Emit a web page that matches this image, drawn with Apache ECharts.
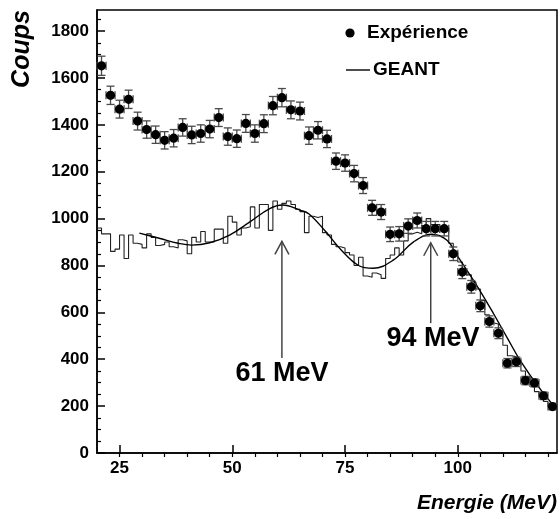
<!DOCTYPE html>
<html>
<head>
<meta charset="utf-8">
<script src="https://cdn.jsdelivr.net/npm/echarts@6/dist/echarts.min.js"></script>
<style>
  html, body { margin: 0; padding: 0; background: #fff; }
  #chart { width: 560px; height: 519px; }
</style>
</head>
<body>
<div id="chart"></div>
<script>
// experience : 2 MeV bins, centres 21..121
const expX = [21, 23, 25, 27, 29, 31, 33, 35, 37, 39, 41, 43, 45, 47, 49, 51, 53, 55, 57, 59,
  61, 63, 65, 67, 69, 71, 73, 75, 77, 79, 81, 83, 85, 87, 89, 91, 93, 95, 97, 99,
  101, 103, 105, 107, 109, 111, 113, 115, 117, 119, 121]
const expY = [1652, 1526, 1467, 1509, 1416, 1380, 1358, 1334, 1343, 1389, 1357, 1363, 1382, 1431, 1350, 1341, 1406, 1363, 1405, 1482,
  1516, 1464, 1459, 1354, 1377, 1340, 1245, 1237, 1192, 1141, 1046, 1028, 933, 935, 968, 992, 957, 957, 957, 850,
  772, 709, 628, 561, 511, 383, 389, 309, 299, 244, 198]
const expErr = [41, 39, 38, 39, 38, 37, 37, 37, 37, 37, 37, 37, 37, 38, 37, 37, 38, 37, 38, 39,
  39, 38, 38, 37, 37, 37, 35, 35, 35, 34, 32, 32, 31, 31, 31, 32, 31, 31, 31, 29,
  28, 27, 25, 24, 23, 20, 20, 18, 17, 16, 14]

// GEANT histogramme : 1 MeV bins, left edges 20..121
const geantStart = 20
const geantVal = [960, 935, 935, 860, 870, 930, 830, 930, 895, 890,
  875, 935, 920, 885, 890, 900, 880, 875, 910, 905,
  850, 920, 900, 945, 900, 900, 955, 955, 895, 1010,
  985, 930, 960, 965, 1050, 960, 1060, 1060, 950, 1075,
  1040, 1065, 1075, 1060, 1040, 1030, 940, 1010, 1005, 1010,
  940, 930, 890, 880, 875, 855, 845, 800, 835, 755,
  750, 768, 760, 745, 830, 845, 875, 845, 905, 935,
  942, 935, 970, 1000, 975, 975, 965, 960, 895, 855,
  815, 780, 760, 730, 700, 650, 590, 555, 550, 505,
  460, 415, 410, 395, 350, 325, 305, 262, 240, 220,
  198, 190]

// courbe lisse
const curveX = [29.4, 34, 38, 41, 45, 49.4, 53.9, 58.3, 61.2, 65, 67, 70.6, 74.3, 78, 81.2, 85.7, 90.2, 94.2, 97.6, 99.8, 102, 105, 108, 111, 114, 118, 122]
const curveY = [938, 915, 895, 887, 897, 930, 986, 1043, 1058, 1036, 1020, 947, 863, 800, 788, 823, 901, 933, 908, 844, 780, 690, 592, 490, 390, 280, 185]

// fleches : x, bas, pointe
const arrows = [[61, 405, 903], [94, 554, 897]]
const arrowLabels = [[61, 341, '61 MeV'], [94.5, 490, '94 MeV']]

const xTicks = [25, 50, 75, 100]
const xMinor = [25, 30, 35, 40, 45, 50, 55, 60, 65, 70, 75, 80, 85, 90, 95, 100, 105, 110, 115, 120]
const yTicks = [0, 200, 400, 600, 800, 1000, 1200, 1400, 1600, 1800]
const yMinor = [50, 100, 150, 250, 300, 350, 450, 500, 550, 650, 700, 750, 850, 900, 950,
  1050, 1100, 1150, 1250, 1300, 1350, 1450, 1500, 1550, 1650, 1700, 1750, 1850]

const FONT = '"Liberation Sans", Arial, Helvetica, sans-serif'

const histData = geantVal.map((v, i) => [geantStart + i, v])
histData.push([geantStart + geantVal.length, geantVal[geantVal.length - 1]])

const expData = expX.map((x, i) => [x, expY[i], expErr[i]])
const curveData = curveX.map((x, i) => [x, curveY[i]])

const chart = echarts.init(document.getElementById('chart'))

const baseX = {
  type: 'value', min: 20, max: 122, gridIndex: 0,
  splitLine: { show: false }
}
const baseY = {
  type: 'value', min: 0, max: 1890, gridIndex: 0,
  splitLine: { show: false }
}

chart.setOption({
  animation: false,
  backgroundColor: '#fff',
  grid: {
    left: 97, right: 3, top: 10, bottom: 66,
    show: true, borderColor: '#000', borderWidth: 1.5, backgroundColor: 'transparent'
  },
  xAxis: [
    Object.assign({}, baseX, {
      axisLine: { show: true, lineStyle: { color: '#000', width: 1.5 } },
      axisTick: { show: true, inside: true, length: 8, customValues: xTicks, lineStyle: { color: '#000', width: 1.5 } },
      axisLabel: { customValues: xTicks, formatter: v => String(v), color: '#000', fontFamily: FONT, fontWeight: 'bold', fontSize: 17, margin: 7 }
    }),
    Object.assign({}, baseX, {
      axisLine: { show: false },
      axisTick: { show: true, inside: true, length: 4, customValues: xMinor, lineStyle: { color: '#000', width: 1.2 } },
      axisLabel: { show: false }
    })
  ],
  yAxis: [
    Object.assign({}, baseY, {
      axisLine: { show: true, lineStyle: { color: '#000', width: 1.5 } },
      axisTick: { show: true, inside: true, length: 8, customValues: yTicks, lineStyle: { color: '#000', width: 1.5 } },
      axisLabel: { customValues: yTicks, formatter: v => String(v), color: '#000', fontFamily: FONT, fontWeight: 'bold', fontSize: 17, margin: 8 }
    }),
    Object.assign({}, baseY, {
      position: 'left',
      axisLine: { show: false },
      axisTick: { show: true, inside: true, length: 4, customValues: yMinor, lineStyle: { color: '#000', width: 1.2 } },
      axisLabel: { show: false }
    })
  ],
  series: [
    {
      type: 'line', name: 'GEANT histo', data: histData, step: 'end',
      showSymbol: false, symbol: 'none',
      lineStyle: { color: '#222', width: 1.1 }
    },
    {
      type: 'line', name: 'GEANT', data: curveData, smooth: 0.4,
      showSymbol: false, symbol: 'none',
      lineStyle: { color: '#000', width: 1.4 }
    },
    {
      type: 'custom', name: 'Expérience', data: expData,
      encode: { x: 0, y: 1 },
      z: 5,
      renderItem: function (params, api) {
        const x = api.value(0), y = api.value(1), e = api.value(2)
        const c = api.coord([x, y])
        const top = api.coord([x, y + e])
        const bot = api.coord([x, y - e])
        const l = api.coord([x - 1, y])
        const r = api.coord([x + 1, y])
        const bar = { stroke: '#4a4a4a', lineWidth: 1.3 }
        return {
          type: 'group',
          children: [
            { type: 'line', shape: { x1: c[0], y1: top[1], x2: c[0], y2: bot[1] }, style: bar },
            { type: 'line', shape: { x1: c[0] - 4, y1: top[1], x2: c[0] + 4, y2: top[1] }, style: bar },
            { type: 'line', shape: { x1: c[0] - 4, y1: bot[1], x2: c[0] + 4, y2: bot[1] }, style: bar },
            { type: 'line', shape: { x1: l[0], y1: c[1], x2: r[0], y2: c[1] }, style: bar },
            { type: 'line', shape: { x1: l[0], y1: c[1] - 4, x2: l[0], y2: c[1] + 4 }, style: bar },
            { type: 'line', shape: { x1: r[0], y1: c[1] - 4, x2: r[0], y2: c[1] + 4 }, style: bar },
            { type: 'circle', shape: { cx: c[0], cy: c[1], r: 4.6 }, style: { fill: '#000' } }
          ]
        }
      }
    },
    {
      type: 'custom', name: 'fleches', data: arrows,
      encode: { x: 0, y: [1, 2] },
      renderItem: function (params, api) {
        const b = api.coord([api.value(0), api.value(1)])
        const t = api.coord([api.value(0), api.value(2)])
        const s = { stroke: '#444', lineWidth: 1.5, fill: null }
        return {
          type: 'group',
          children: [
            { type: 'line', shape: { x1: b[0], y1: b[1], x2: t[0], y2: t[1] }, style: s },
            { type: 'polyline', shape: { points: [[t[0] - 7, t[1] + 13], [t[0], t[1]], [t[0] + 7, t[1] + 13]] }, style: s }
          ]
        }
      }
    },
    {
      type: 'custom', name: 'etiquettes', data: arrowLabels,
      encode: { x: 0, y: 1 },
      renderItem: function (params, api) {
        const p = api.coord([api.value(0), api.value(1)])
        return {
          type: 'text',
          style: {
            x: p[0], y: p[1], text: arrowLabels[params.dataIndex][2],
            fill: '#000', font: 'bold 27px ' + FONT, align: 'center', verticalAlign: 'middle'
          }
        }
      }
    }
  ],
  graphic: [
    { type: 'circle', shape: { cx: 350, cy: 33, r: 4.6 }, style: { fill: '#000' } },
    { type: 'text', style: { x: 367, y: 33, text: 'Expérience', fill: '#000', font: 'bold 19px ' + FONT, verticalAlign: 'middle' } },
    { type: 'line', shape: { x1: 346, y1: 70, x2: 370, y2: 70 }, style: { stroke: '#000', lineWidth: 1.4 } },
    { type: 'text', style: { x: 373, y: 70, text: 'GEANT', fill: '#000', font: 'bold 19px ' + FONT, verticalAlign: 'middle' } },
    { type: 'text', style: { x: 557, y: 503, text: 'Energie (MeV)', fill: '#000', font: 'italic bold 21px ' + FONT, align: 'right', verticalAlign: 'middle' } },
    { type: 'text', rotation: Math.PI / 2, x: 22, y: 49, style: { x: 0, y: 0, text: 'Coups', fill: '#000', font: 'italic bold 25px ' + FONT, align: 'center', verticalAlign: 'middle' } }
  ]
})
</script>
</body>
</html>
